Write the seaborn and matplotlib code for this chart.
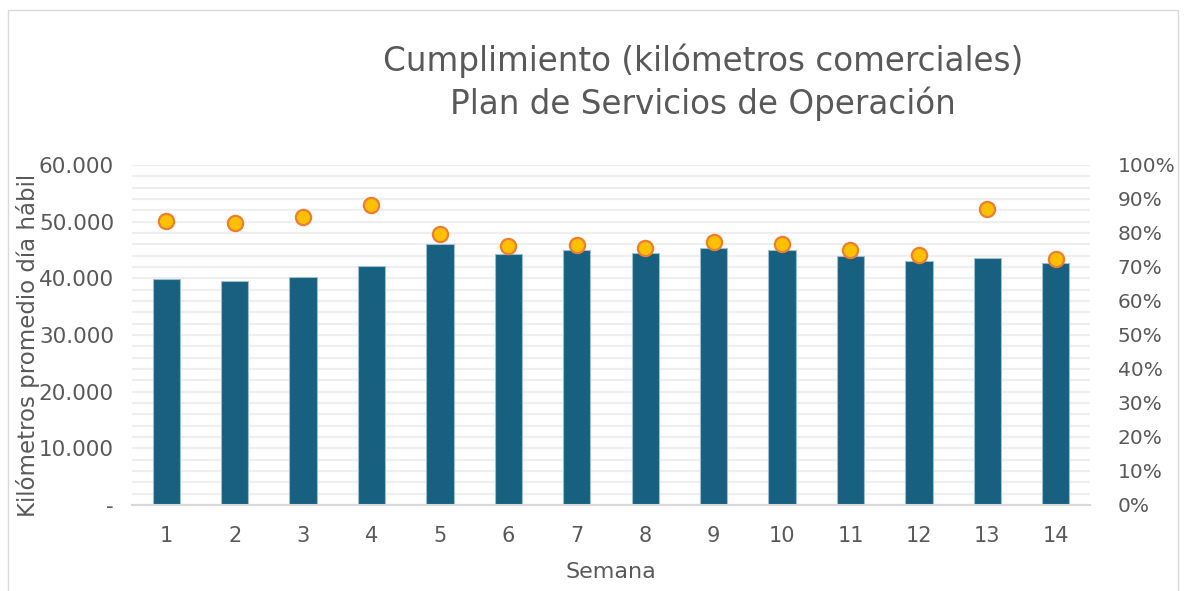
import numpy as np
import pandas as pd
import matplotlib
matplotlib.use("Agg")
import matplotlib.pyplot as plt
import seaborn as sns
from matplotlib.ticker import MultipleLocator, FuncFormatter
from matplotlib.patches import Rectangle

# Datos
semanas = [str(i) for i in range(1, 15)]
km_promedio = [39950, 39470, 40290, 42180, 46060, 44240, 45000,
               44470, 45410, 45060, 44000, 43060, 43600, 42700]
cumplimiento = [0.835, 0.828, 0.846, 0.883, 0.797, 0.763, 0.764,
                0.757, 0.773, 0.767, 0.749, 0.735, 0.871, 0.725]

df = pd.DataFrame({'semana': semanas, 'km': km_promedio, 'cumplimiento': cumplimiento})

sns.set_theme(style="white")
plt.rcParams['font.family'] = ['DejaVu Sans']
gris = '#595959'

fig = plt.figure(figsize=(11.86, 5.91), dpi=100)
ax = fig.add_axes([132/1186, 1 - 505/591, 958/1186, 340/591])

sns.barplot(data=df, x='semana', y='km', color='#17607f', width=0.4,
            edgecolor='#9dbdd0', linewidth=0.8, saturation=1, ax=ax)
ax.set_xlim(-0.5, 13.5)
ax.set_ylim(0, 60000)
ax.yaxis.set_major_locator(MultipleLocator(10000))
ax.yaxis.set_minor_locator(MultipleLocator(2000))
ax.yaxis.set_major_formatter(FuncFormatter(
    lambda v, p: '-' if v == 0 else f'{v:,.0f}'.replace(',', '.')))
ax.set_axisbelow(True)
ax.grid(True, which='both', axis='y', color='#efefef', linewidth=1.6)
ax.grid(False, axis='x')
for s in ['top', 'right', 'left']:
    ax.spines[s].set_visible(False)
ax.spines['bottom'].set_color('#d9d9d9')
ax.spines['bottom'].set_linewidth(1.5)
ax.tick_params(axis='y', which='both', length=0, pad=13, labelsize=15.5, labelcolor=gris)
ax.tick_params(axis='x', length=0, pad=15, labelsize=15, labelcolor=gris)
ax.set_xlabel('Semana', fontsize=16, color=gris, labelpad=12)
ax.set_ylabel('Kilómetros promedio día hábil', fontsize=16.5, color=gris)
ax.yaxis.set_label_coords(-0.096, 0.47)

ax2 = ax.twinx()
sns.scatterplot(data=df, x='semana', y='cumplimiento', s=120, color='#ffc000',
                edgecolor='#ed7d31', linewidth=1.6, zorder=5, ax=ax2, legend=False)
ax2.set_ylim(0, 1)
ax2.yaxis.set_major_locator(MultipleLocator(0.1))
ax2.yaxis.set_major_formatter(FuncFormatter(lambda v, p: f'{v*100:.0f}%'))
ax2.tick_params(axis='y', length=0, pad=20, labelsize=14.5, labelcolor=gris)
ax2.set_ylabel('')
for s in ax2.spines.values():
    s.set_visible(False)
ax2.grid(False)

fig.text(703/1186, 1 - 61/591, 'Cumplimiento (kilómetros comerciales)',
         ha='center', va='center', fontsize=23.5, color=gris)
fig.text(703/1186, 1 - 104/591, 'Plan de Servicios de Operación',
         ha='center', va='center', fontsize=23.5, color=gris)

fig.patches.append(Rectangle((8/1186, -0.02), 1170/1186, 1.02 - 10/591,
                             transform=fig.transFigure, fill=False,
                             edgecolor='#d9d9d9', linewidth=1))

fig.savefig('out.png', dpi=100, facecolor='white')
plt.close(fig)
